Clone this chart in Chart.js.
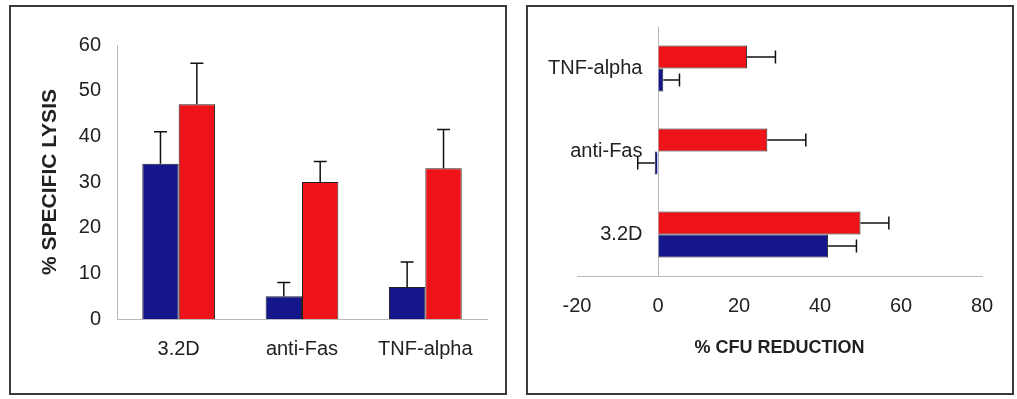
<!DOCTYPE html>
<html lang="en">
<head>
<meta charset="UTF-8">
<title>Lysis and CFU reduction</title>
<script src="https://cdn.jsdelivr.net/npm/chart.js@4.4.1/dist/chart.umd.min.js"></script>
<style>
    body { margin: 0; background: #fff; }
    .panel { position: absolute; border: 2px solid #3a3a3a; }
    #p1 { left: 9px; top: 5px; width: 494px; height: 386px; }
    #p2 { left: 526px; top: 5px; width: 484px; height: 386px; }
    canvas { display: block; }
</style>
</head>
<body>
<div class="panel" id="p1"><canvas id="lysisChart" width="494" height="386"></canvas></div>
<div class="panel" id="p2"><canvas id="cfuChart" width="484" height="386"></canvas></div>

<script>
    // data
    var categories = ['3.2D', 'anti-Fas', 'TNF-alpha'];

    var lysisTicks = [0, 10, 20, 30, 40, 50, 60];
    var lysisBlue = [34, 5, 7];
    var lysisBlueErr = [7, 3, 5.5];
    var lysisRed = [47, 30, 33];
    var lysisRedErr = [9, 4.5, 8.5];

    var cfuTicks = [-20, 0, 20, 40, 60, 80];
    var cfuBlue = [42, -0.8, 1.3];
    var cfuBlueErr = [7, 4.2, 4];
    var cfuRed = [50, 27, 22];
    var cfuRedErr = [7, 9.5, 7];

    var BLUE = '#15158c';
    var RED = '#ee1318';
    var TEXT = '#222';
    var AXIS = '#b8b8b8';
    var FONT = "'Liberation Sans', Arial, sans-serif";

    // draws the +error whiskers with a cap
    var errorBars = {
        id: 'errorBars',
        afterDatasetsDraw: function (chart) {
            var ctx = chart.ctx;
            var horiz = chart.options.indexAxis === 'y';
            var vScale = horiz ? chart.scales.x : chart.scales.y;
            var cap = 6.5;
            chart.data.datasets.forEach(function (ds, i) {
                var meta = chart.getDatasetMeta(i);
                meta.data.forEach(function (bar, j) {
                    var v = ds.data[j];
                    var e = ds.errors[j];
                    var end = vScale.getPixelForValue(v < 0 ? v - e : v + e);
                    ctx.save();
                    ctx.strokeStyle = '#111';
                    ctx.lineWidth = 1.5;
                    ctx.beginPath();
                    if (horiz) {
                        ctx.moveTo(bar.x, bar.y);
                        ctx.lineTo(end, bar.y);
                        ctx.moveTo(end, bar.y - cap);
                        ctx.lineTo(end, bar.y + cap);
                    } else {
                        ctx.moveTo(bar.x, bar.y);
                        ctx.lineTo(bar.x, end);
                        ctx.moveTo(bar.x - cap, end);
                        ctx.lineTo(bar.x + cap, end);
                    }
                    ctx.stroke();
                    ctx.restore();
                });
            });
        }
    };

    Chart.defaults.font.family = FONT;
    Chart.defaults.color = TEXT;

    // left: % specific lysis
    new Chart(document.getElementById('lysisChart'), {
        type: 'bar',
        data: {
            labels: categories,
            datasets: [{
                data: lysisBlue,
                errors: lysisBlueErr,
                backgroundColor: BLUE,
                borderColor: '#222',
                borderWidth: 1
            }, {
                data: lysisRed,
                errors: lysisRedErr,
                backgroundColor: RED,
                borderColor: '#222',
                borderWidth: 1
            }]
        },
        options: {
            responsive: false,
            animation: false,
            categoryPercentage: 0.59,
            barPercentage: 1,
            layout: { padding: { left: 20, right: 18, top: 38, bottom: 31 } },
            plugins: { legend: { display: false }, tooltip: { enabled: false } },
            scales: {
                x: {
                    grid: { display: false, drawTicks: false },
                    border: { color: AXIS, width: 1 },
                    ticks: { font: { size: 20 }, padding: 18 },
                    afterFit: function (s) { s.height = 43; }
                },
                y: {
                    min: 0,
                    max: 60,
                    afterBuildTicks: function (s) {
                        s.ticks = lysisTicks.map(function (v) { return { value: v }; });
                    },
                    grid: { display: false, drawTicks: false },
                    border: { color: AXIS, width: 1 },
                    ticks: { font: { size: 20 }, padding: 16 },
                    title: {
                        display: true,
                        text: '% SPECIFIC LYSIS',
                        font: { size: 21, weight: 'bold' },
                        color: TEXT,
                        padding: { top: 7, bottom: 0 }
                    },
                    afterFit: function (s) { s.width = 86; }
                }
            }
        },
        plugins: [errorBars]
    });

    // right: % CFU reduction, horizontal, 3.2D at the bottom
    var cfuLabels = categories.slice().reverse();
    new Chart(document.getElementById('cfuChart'), {
        type: 'bar',
        data: {
            labels: cfuLabels,
            datasets: [{
                data: cfuRed.slice().reverse(),
                errors: cfuRedErr.slice().reverse(),
                backgroundColor: RED,
                borderColor: '#222',
                borderWidth: 1
            }, {
                data: cfuBlue.slice().reverse(),
                errors: cfuBlueErr.slice().reverse(),
                backgroundColor: BLUE,
                borderColor: '#222',
                borderWidth: 1
            }]
        },
        options: {
            indexAxis: 'y',
            responsive: false,
            animation: false,
            categoryPercentage: 0.555,
            barPercentage: 1,
            layout: { padding: { left: 10, right: 30, top: 20, bottom: 30 } },
            plugins: { legend: { display: false }, tooltip: { enabled: false } },
            scales: {
                x: {
                    min: -20,
                    max: 80,
                    afterBuildTicks: function (s) {
                        s.ticks = cfuTicks.map(function (v) { return { value: v }; });
                    },
                    grid: {
                        drawTicks: false,
                        color: function (c) { return c.tick && c.tick.value === 0 ? AXIS : 'rgba(0,0,0,0)'; }
                    },
                    border: { color: AXIS, width: 1 },
                    ticks: { font: { size: 20 }, padding: 18 },
                    title: {
                        display: true,
                        text: '% CFU REDUCTION',
                        font: { size: 18, weight: 'bold' },
                        color: TEXT,
                        padding: { top: 0, bottom: 4 }
                    },
                    afterFit: function (s) { s.height = 87; }
                },
                y: {
                    grid: { display: false, drawTicks: false },
                    border: { display: false },
                    // labels sit inside the plot, right-aligned just left of the 0 line
                    ticks: { font: { size: 20 }, mirror: true, crossAlign: 'far', padding: -29 },
                    afterFit: function (s) { s.width = 39; }
                }
            }
        },
        plugins: [errorBars]
    });
</script>
</body>
</html>
